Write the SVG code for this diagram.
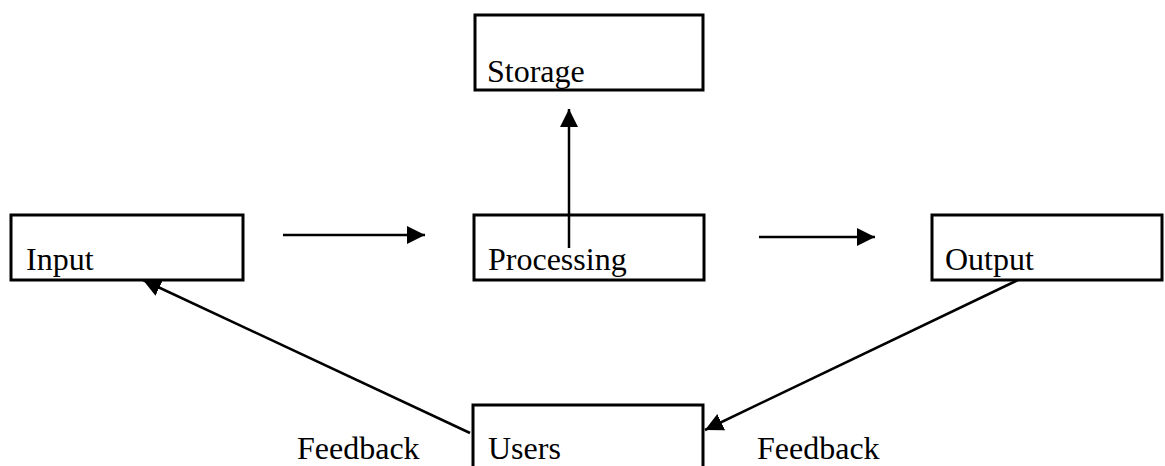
<svg xmlns="http://www.w3.org/2000/svg" width="1165" height="466" viewBox="0 0 1165 466">
<style>
.box{fill:#fff;stroke:#000;stroke-width:3}
.lbl{font-family:"Liberation Serif","Times New Roman",serif;font-size:32px;fill:#000}
.con{stroke:#000;stroke-width:2.5;fill:none;marker-end:url(#ah)}
</style>
<defs>
<marker id="ah" markerUnits="userSpaceOnUse" markerWidth="18" markerHeight="18" viewBox="0 0 16 16" refX="16" refY="8" orient="auto">
<path d="M0,0 L16,8 L0,16 Z" fill="#000"/>
</marker>
</defs>
<rect width="1165" height="466" fill="#fff"/>
<g id="storage"><rect class="box" x="475" y="15" width="228" height="75"/><text class="lbl" x="487" y="82">Storage</text></g>
<g id="input"><rect class="box" x="11" y="215" width="232" height="65"/><text class="lbl" x="26" y="270">Input</text></g>
<g id="processing"><rect class="box" x="474" y="215" width="230" height="65"/><text class="lbl" x="488" y="270">Processing</text></g>
<g id="output"><rect class="box" x="932" y="215" width="230" height="65"/><text class="lbl" x="945" y="270">Output</text></g>
<g id="users"><rect class="box" x="473" y="405" width="230" height="100"/><text class="lbl" x="488" y="459">Users</text></g>
<g id="feedback-left"><text class="lbl" x="297" y="459">Feedback</text></g>
<g id="feedback-right"><text class="lbl" x="757" y="459">Feedback</text></g>
<g id="connectors">
<line class="con" x1="283" y1="235" x2="425" y2="235"/>
<line class="con" x1="759" y1="237" x2="875" y2="237"/>
<line class="con" x1="569" y1="248" x2="569" y2="109"/>
<line class="con" x1="470" y1="433" x2="143" y2="280"/>
<line class="con" x1="1018" y1="280" x2="705" y2="430"/>
</g>
</svg>
